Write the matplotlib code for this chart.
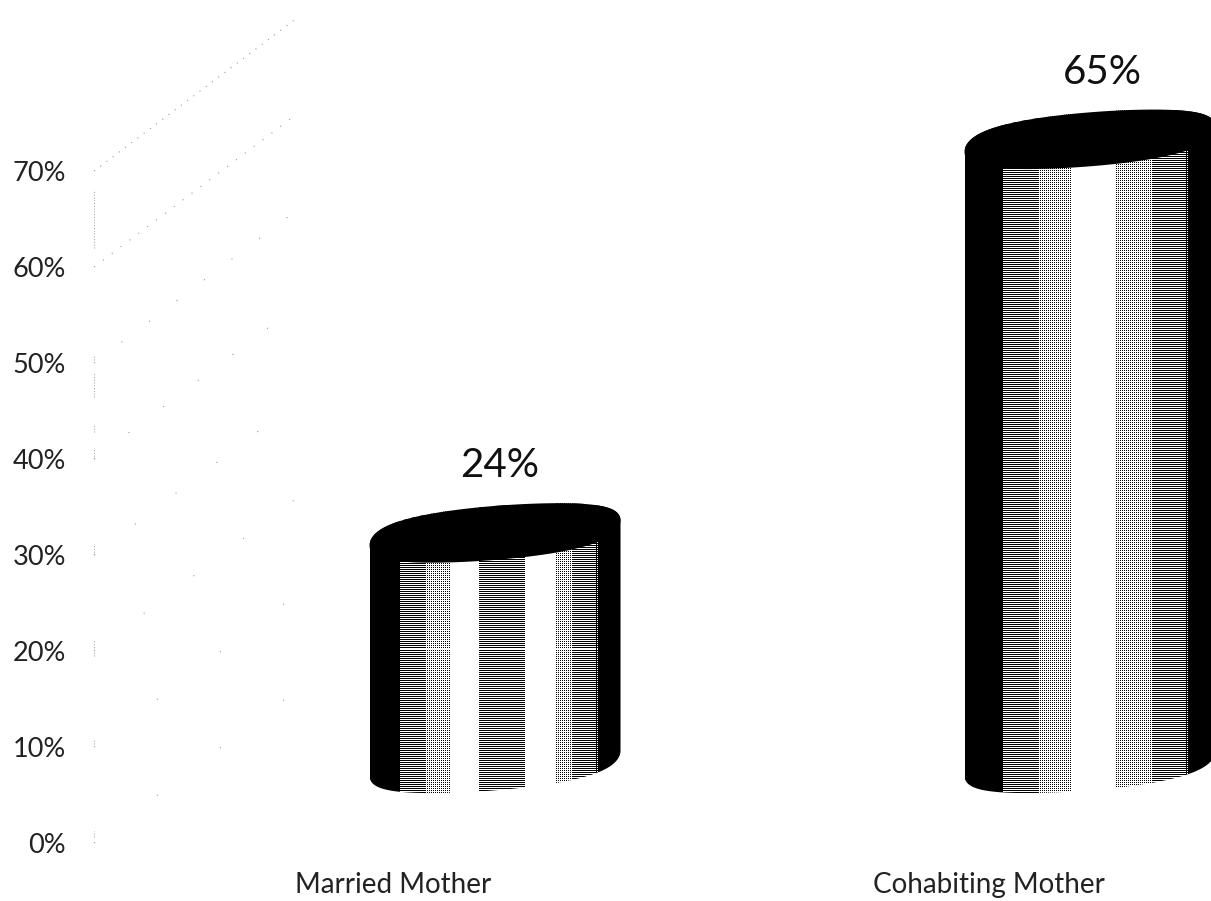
import matplotlib
matplotlib.use("Agg")
import matplotlib.pyplot as plt
import numpy as np
from matplotlib.patches import Polygon

plt.rcParams['font.family'] = ['Lato', 'DejaVu Sans']

categories = ["Married Mother", "Cohabiting Mother"]
values = [24, 65]
value_labels = ["24%", "65%"]
ticks = [0, 10, 20, 30, 40, 50, 60, 70]
tick_labels = ["0%", "10%", "20%", "30%", "40%", "50%", "60%", "70%"]

# shading across each cylinder: (fraction of width, grey level)
shade_married = [(0, 0), (0.115, 0), (0.12, 0.35), (0.165, 0.45), (0.17, 0.6), (0.22, 0.65),
                 (0.23, 0.8), (0.32, 0.85), (0.325, 1), (0.43, 1), (0.435, 0.45), (0.61, 0.45),
                 (0.615, 1), (0.73, 1), (0.735, 0.8), (0.85, 0.6), (0.87, 0.4), (0.9, 0.3),
                 (0.905, 0), (1, 0)]
shade_cohab = [(0, 0), (0.15, 0), (0.155, 0.35), (0.23, 0.45), (0.24, 0.6), (0.34, 0.75),
               (0.425, 0.85), (0.43, 1), (0.595, 1), (0.6, 0.8), (0.74, 0.7), (0.82, 0.55),
               (0.83, 0.4), (0.89, 0.3), (0.895, 0), (1, 0)]
shades = [shade_married, shade_cohab]

# figure geometry, in pixels
W, H = 1211, 901
LEFT, ZERO = 92, 843
PX_PCT = 9.6      # pixels per percent
PX_CAT = 595.0    # pixels between the two cylinders
CENTER0 = 495
LABEL_SHIFT = -101.5 / PX_CAT

HALF_W = 125.5 / PX_CAT
CAP_B = 27 / PX_PCT
CAP_TILT = 12.5 / PX_PCT
BASE = 8.3        # cylinders stand on the floor of the 3d box
DEPTH_X, DEPTH_Y = 203 / PX_CAT, 153 / PX_PCT

# mostly horizontal rows, like the halftone in the scan
pattern = np.array([[0.12, 0.32], [0.68, 0.88]])

# bits of the back wall that survive, in percent
wall_bits = [(62, 68), (50.3, 50.8), (46.5, 49), (42.8, 43.6), (40, 41), (30, 31),
             (19.5, 21), (10.3, 10.8), (0.6, 1.2)]


def ring(xc, yc, t):
    c, s = np.cos(t), np.sin(t)
    return np.column_stack([xc + HALF_W * (1.25 * c - 0.25 * c ** 3),
                            yc + CAP_TILT * c + CAP_B * s])


def dither(shade, nx, ny):
    u = (np.arange(nx) + 0.5) / nx
    s = np.array(shade)
    grey = np.interp(u, s[:, 0], s[:, 1])
    img = np.zeros((ny, nx))
    for r in range(ny):
        img[r] = grey > pattern[r % 2, np.arange(nx) % 2]
    return img


fig = plt.figure(figsize=(W / 100, H / 100), dpi=100)
ax = fig.add_axes([LEFT / W, (H - ZERO) / H, (W - LEFT) / W, ZERO / H])
for s in ax.spines.values():
    s.set_visible(False)

# faint dotted walls of the 3d box
wall_x = (LEFT + 2 - CENTER0) / PX_CAT
gaps = {70: 6, 60: 9, 50: 30, 40: 38, 30: 45, 20: 55, 10: 70, 0: 70}
for v in ticks:
    ax.plot([wall_x, wall_x + DEPTH_X], [v, v + DEPTH_Y], color='#999999', lw=0.8,
            ls=(0, (1, gaps[v])), clip_on=False)
for a, b in wall_bits:
    ax.plot([wall_x, wall_x], [a, b], color='#aaaaaa', lw=0.8, ls=(0, (1, 1.5)), clip_on=False)

for i, v in enumerate(values):
    top = v + BASE
    t1 = np.linspace(0, np.pi, 80)
    t2 = np.linspace(np.pi, 2 * np.pi, 80)
    outline = np.vstack([ring(i, top, t1), ring(i, BASE, t2)])
    extent = [i - HALF_W, i + HALF_W, BASE - 4, top + 4]
    nx = int(round(2 * HALF_W * PX_CAT))
    ny = int(round((top - BASE + 8) * PX_PCT))
    im = ax.imshow(dither(shades[i], nx, ny), extent=extent, cmap='gray', vmin=0, vmax=1,
                   aspect='auto', interpolation='nearest', zorder=2)
    clip = Polygon(outline, closed=True, transform=ax.transData)
    im.set_clip_path(clip)
    ax.add_patch(Polygon(ring(i, top, np.linspace(0, 2 * np.pi, 160)), closed=True,
                         fc='black', ec='none', zorder=3, clip_on=False))
    ax.annotate(value_labels[i], (i, top), xytext=(5 + 7 * i, 67), textcoords='offset pixels',
                ha='center', va='center', fontsize=29, color='#111111', annotation_clip=False)

ax.set_xlim((LEFT - CENTER0) / PX_CAT, (W - CENTER0) / PX_CAT)
ax.set_ylim(0, ZERO / PX_PCT)
ax.set_yticks(ticks)
ax.set_yticklabels(tick_labels, fontsize=19.5, color='#222222')
ax.set_xticks([0 + LABEL_SHIFT, 1 + LABEL_SHIFT])
ax.set_xticklabels(categories, fontsize=20, color='#222222')
ax.tick_params(length=0)
ax.tick_params(axis='x', pad=21)
ax.tick_params(axis='y', pad=18.7)

fig.savefig("out.png", dpi=100)
